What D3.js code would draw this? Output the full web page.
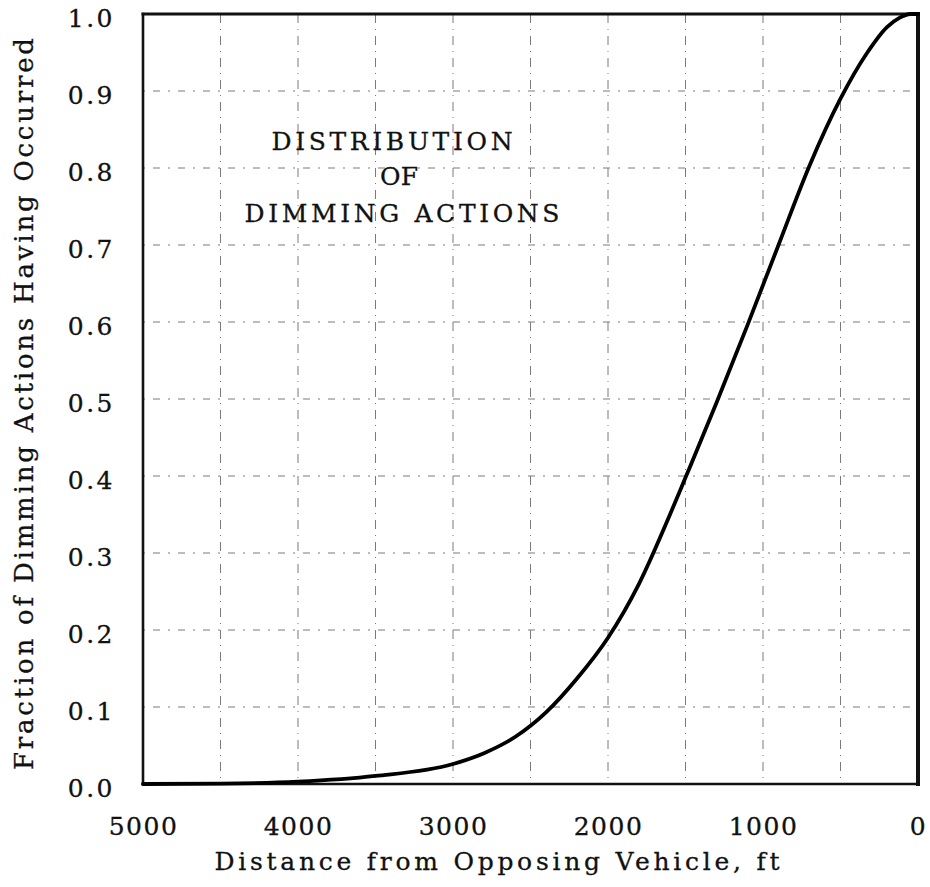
<!DOCTYPE html>
<html>
<head>
<meta charset="utf-8">
<script src="https://cdn.jsdelivr.net/npm/d3@7"></script>
<style>
  html, body { margin: 0; padding: 0; background: #fff; }
  svg { display: block; }
  text { font-family: "DejaVu Serif", "Liberation Serif", serif; fill: #111; }
</style>
</head>
<body>
<svg id="chart" width="930" height="887"></svg>
<script>
// ---- data ----
const distances = [5000, 4500, 4000, 3500, 3000, 2800, 2600, 2400, 2200, 2000, 1800, 1600, 1500, 1300, 1100, 900, 700, 500, 330, 200, 120, 50, 0];
const fractions = [0, 0.0005, 0.003, 0.0105, 0.026, 0.040, 0.061, 0.093, 0.137, 0.19, 0.26, 0.35, 0.398, 0.495, 0.596, 0.70, 0.803, 0.89, 0.949, 0.983, 0.995, 1.0, 1.0];
const xTicks = [5000, 4000, 3000, 2000, 1000, 0];
const yTicks = [0.0, 0.1, 0.2, 0.3, 0.4, 0.5, 0.6, 0.7, 0.8, 0.9, 1.0];
const xGrid = [4500, 4000, 3500, 3000, 2500, 2000, 1500, 1000, 500];
const yGrid = [0.1, 0.2, 0.3, 0.4, 0.5, 0.6, 0.7, 0.8, 0.9];
const xTitle = "Distance from Opposing Vehicle, ft";
const yTitle = "Fraction of Dimming Actions Having Occurred";
const noteLines = ["DISTRIBUTION", "OF", "DIMMING ACTIONS"];

// ---- layout ----
const L = 143, R = 918, T = 14, B = 784;
const svg = d3.select("#chart");
const x = d3.scaleLinear().domain([5000, 0]).range([L, R]);
const y = d3.scaleLinear().domain([0, 1]).range([B, T]);

// gridlines
const grid = svg.append("g").attr("stroke", "#7a7a7a").attr("stroke-width", 1).attr("fill", "none");
grid.selectAll(".vg").data(xGrid).join("line")
  .attr("x1", d => x(d)).attr("x2", d => x(d))
  .attr("y1", T).attr("y2", B)
  .attr("stroke-dasharray", "9,6,1,6");
grid.selectAll(".hg").data(yGrid).join("line")
  .attr("x1", L).attr("x2", R)
  .attr("y1", d => y(d)).attr("y2", d => y(d))
  .attr("stroke-dasharray", "2,8,7,8");

// axes
const xAxis = d3.axisBottom(x).tickValues(xTicks).tickSize(0).tickPadding(33).tickFormat(d3.format("d"));
const gx = svg.append("g").attr("transform", `translate(0,${B})`).call(xAxis);
gx.select(".domain").remove();
gx.selectAll("text").attr("font-size", 25).attr("font-family", "DejaVu Serif").attr("fill", "#111")
  .attr("stroke", "#111").attr("stroke-width", 0.3).style("letter-spacing", "1.5px");

const yAxis = d3.axisLeft(y).tickValues(yTicks).tickSize(0).tickPadding(28).tickFormat(d3.format(".1f"));
const gy = svg.append("g").attr("transform", `translate(${L},0)`).call(yAxis);
gy.select(".domain").remove();
gy.selectAll("text").attr("font-size", 25).attr("font-family", "DejaVu Serif").attr("fill", "#111")
  .attr("stroke", "#111").attr("stroke-width", 0.3)
  .attr("dy", "0.48em").style("letter-spacing", "2.5px");

// frame
const frame = svg.append("g").attr("stroke", "#111").attr("stroke-linecap", "square");
frame.append("line").attr("x1", L).attr("x2", R).attr("y1", T).attr("y2", T).attr("stroke-width", 3);
frame.append("line").attr("x1", L).attr("x2", R).attr("y1", B).attr("y2", B).attr("stroke-width", 2.6);
frame.append("line").attr("x1", L).attr("x2", L).attr("y1", T).attr("y2", B).attr("stroke-width", 2.6);
frame.append("line").attr("x1", R).attr("x2", R).attr("y1", T).attr("y2", B).attr("stroke-width", 4);

// curve
const pts = distances.map((d, i) => [d, fractions[i]]);
const path = d3.line().x(d => x(d[0])).y(d => y(d[1])).curve(d3.curveMonotoneX);
svg.append("path").datum(pts).attr("d", path)
  .attr("fill", "none").attr("stroke", "#000").attr("stroke-width", 3.8)
  .attr("stroke-linejoin", "round").attr("stroke-linecap", "round");

// titles
svg.append("text").attr("x", 497).attr("y", 870).attr("text-anchor", "middle")
  .attr("font-size", 25).attr("stroke", "#111").attr("stroke-width", 0.3)
  .attr("textLength", 565).attr("lengthAdjust", "spacing").text(xTitle);
svg.append("text").attr("transform", "translate(33,404) rotate(-90)").attr("text-anchor", "middle")
  .attr("font-size", 26).attr("stroke", "#111").attr("stroke-width", 0.3)
  .attr("textLength", 732).attr("lengthAdjust", "spacing").text(yTitle);

// annotation
const noteX = [392, 399, 402], noteY = [150, 185, 222], noteW = [241, 38, 315];
svg.selectAll(".note").data(noteLines).join("text")
  .attr("x", (d, i) => noteX[i]).attr("y", (d, i) => noteY[i])
  .attr("text-anchor", "middle").attr("font-size", 25)
  .attr("stroke", "#111").attr("stroke-width", 0.3)
  .attr("textLength", (d, i) => noteW[i]).attr("lengthAdjust", "spacing")
  .text(d => d);
</script>
</body>
</html>
